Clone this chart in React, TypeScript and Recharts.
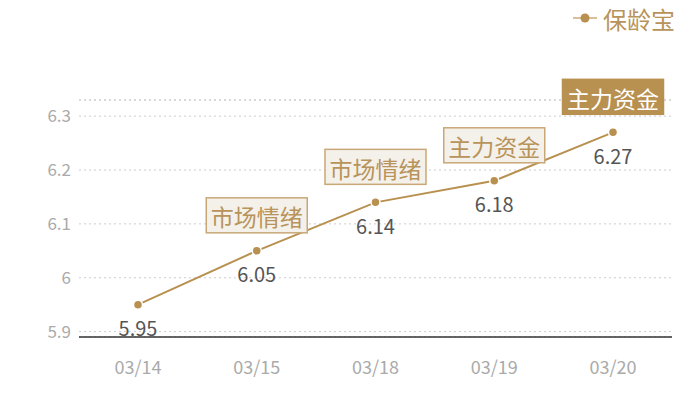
import { LineChart, Line, XAxis, YAxis, CartesianGrid, ReferenceLine, LabelList } from "recharts";

const dates = ["03/14", "03/15", "03/18", "03/19", "03/20"];
const prices = [5.95, 6.05, 6.14, 6.18, 6.27];
const tags = ["", "市场情绪", "市场情绪", "主力资金", "主力资金"];
const highlighted = [false, false, false, false, true];
const yTicks = [5.9, 6, 6.1, 6.2, 6.3];
const yDomain: [number, number] = [5.89, 6.33];
const seriesName = "保龄宝";

const GOLD = "#b8904f";
const TEXT_GOLD = "#b8935a";
const FONT = "'Noto Sans CJK SC', 'Noto Sans', sans-serif";

const data = dates.map((d, i) => ({
  date: d,
  value: prices[i],
  tag: tags[i],
  hot: highlighted[i],
}));

function PointLabel(props: any) {
  const { x, y, index } = props;
  const row = data[index];
  const boxW = 101;
  const boxH = 35;
  return (
    <g>
      <text
        x={x}
        y={y + 23}
        textAnchor="middle"
        dominantBaseline="central"
        fontSize={20}
        fill="#555"
        fontFamily={FONT}
      >
        {row.value.toFixed(2)}
      </text>
      {row.tag && (
        <g>
          <rect
            x={x - boxW / 2}
            y={y - 18 - boxH}
            width={boxW}
            height={boxH}
            fill={row.hot ? GOLD : "#f4f0ea"}
            stroke={row.hot ? GOLD : "#c9a877"}
            strokeWidth={1.5}
          />
          <text
            x={x}
            y={y - 18 - boxH / 2 + 1}
            textAnchor="middle"
            dominantBaseline="central"
            fontSize={23}
            fill={row.hot ? "#fff" : TEXT_GOLD}
            fontFamily={FONT}
          >
            {row.tag}
          </text>
        </g>
      )}
    </g>
  );
}

function LegendBox() {
  return (
    <svg width={125} height={34} style={{ display: "block", position: "absolute", left: 570, top: 0 }}>
      <line x1={3} y1={18} x2={27} y2={18} stroke="#d8c09a" strokeWidth={2} />
      <circle cx={15} cy={18} r={4.5} fill={GOLD} />
      <text
        x={33}
        y={18}
        dominantBaseline="central"
        fontSize={24}
        fill={TEXT_GOLD}
        fontFamily={FONT}
      >
        {seriesName}
      </text>
    </svg>
  );
}

export default function App() {
  return (
    <div style={{ position: "absolute", left: 0, top: 0, width: 700, height: 400, background: "#fff", fontFamily: FONT }}>
      <LineChart width={700} height={400} data={data} margin={{ top: 100, right: 28, bottom: 23, left: 19 }}>
        <CartesianGrid vertical={false} stroke="#cccccc" strokeDasharray="2 3" />
        <ReferenceLine y={yDomain[1]} stroke="#cccccc" strokeDasharray="2 3" />
        <XAxis
          dataKey="date"
          height={40}
          padding={{ left: 59, right: 59 }}
          tickLine={false}
          axisLine={{ stroke: "#333", strokeWidth: 1.5 }}
          tick={{ fill: "#aaa", fontSize: 18, fontFamily: FONT }}
          tickMargin={18}
        />
        <YAxis
          width={60}
          domain={yDomain}
          ticks={yTicks}
          allowDataOverflow
          axisLine={false}
          tickLine={false}
          tick={{ fill: "#aaa", fontSize: 17, fontFamily: FONT }}
        />
        <Line
          type="linear"
          dataKey="value"
          name={seriesName}
          stroke={GOLD}
          strokeWidth={2}
          dot={{ r: 4.5, fill: GOLD, stroke: "#fff", strokeWidth: 1.5 }}
          activeDot={false}
          isAnimationActive={false}
        >
          <LabelList dataKey="value" content={PointLabel} />
        </Line>
      </LineChart>
      <LegendBox />
    </div>
  );
}
